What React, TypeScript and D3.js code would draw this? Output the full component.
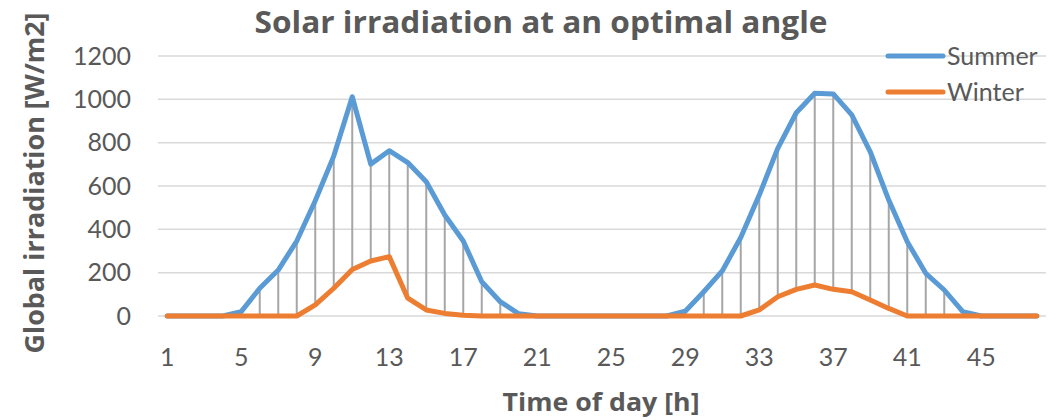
import React from "react";
import * as d3 from "d3";

// hours of the day (two days, 24 h each)
const hours: number[] = d3.range(1, 49);
const tickHours = [1, 5, 9, 13, 17, 21, 25, 29, 33, 37, 41, 45];
const yTicks = [0, 200, 400, 600, 800, 1000, 1200];

const summer = [
  0, 0, 0, 0, 20, 128, 212, 346, 532, 738, 1012, 701, 763, 708, 620, 466, 346, 158, 66, 10,
  0, 0, 0, 0, 0, 0, 0, 0, 22, 112, 208, 362, 558, 774, 938, 1028, 1025, 928, 758, 535,
  343, 197, 120, 20, 0, 0, 0, 0,
];
const winter = [
  0, 0, 0, 0, 0, 0, 0, 0, 51, 128, 215, 254, 274, 82, 28, 12, 3, 0, 0, 0,
  0, 0, 0, 0, 0, 0, 0, 0, 0, 0, 0, 0, 28, 89, 123, 143, 123, 112, 74, 35,
  0, 0, 0, 0, 0, 0, 0, 0,
];

const W = 1058;
const H = 420;
const FONT = "Lato, 'DejaVu Sans', sans-serif";
const BOLD = "'Open Sans', 'DejaVu Sans', sans-serif";
const TXT = "#595959";
const BLUE = "#5b9bd5";
const ORANGE = "#ed7d31";

const App = () => {
  const x = d3.scaleBand<number>().domain(hours).range([158, 1046]);
  const cx = (h: number) => (x(h) as number) + x.bandwidth() / 2;
  const y = d3.scaleLinear().domain([0, 1200]).range([316, 56]);

  const line = d3
    .line<number>()
    .x((_, i) => cx(hours[i]))
    .y((v) => y(v));

  return (
    <svg
      width={W}
      height={H}
      style={{ position: "absolute", left: 0, top: 0, background: "white" }}
      fontFamily={FONT}
    >
      {/* gridlines */}
      {yTicks.map((t) => (
        <line key={t} x1={158} x2={1046} y1={y(t)} y2={y(t)} stroke="#d9d9d9" strokeWidth={1.5} />
      ))}

      {/* high-low lines */}
      {hours.map((h, i) => {
        const lo = Math.min(summer[i], winter[i]);
        const hi = Math.max(summer[i], winter[i]);
        if (hi - lo < 1) return null;
        return (
          <line key={h} x1={cx(h)} x2={cx(h)} y1={y(lo)} y2={y(hi)} stroke="#a6a6a6" strokeWidth={2} />
        );
      })}

      <path d={line(summer) as string} fill="none" stroke={BLUE} strokeWidth={5} strokeLinejoin="round" strokeLinecap="round" />
      <path d={line(winter) as string} fill="none" stroke={ORANGE} strokeWidth={5} strokeLinejoin="round" strokeLinecap="round" />

      {/* y tick labels */}
      {yTicks.map((t) => (
        <text key={t} x={131} y={y(t)} dy="0.35em" textAnchor="end" fontSize={25} fill={TXT}>
          {t}
        </text>
      ))}

      {/* x tick labels */}
      {tickHours.map((h) => (
        <text key={h} x={cx(h)} y={357} dy="0.35em" textAnchor="middle" fontSize={25} fill={TXT}>
          {h}
        </text>
      ))}

      {/* titles */}
      <text x={541} y={22} dy="0.35em" textAnchor="middle" fontFamily={BOLD} fontSize={31} fontWeight="bold" fill={TXT}
        textLength={573} lengthAdjust="spacingAndGlyphs">
        Solar irradiation at an optimal angle
      </text>
      <text x={601} y={402} dy="0.35em" textAnchor="middle" fontFamily={BOLD} fontSize={25} fontWeight="bold" fill={TXT}
        textLength={197} lengthAdjust="spacingAndGlyphs">
        Time of day [h]
      </text>
      <text
        transform={`translate(35,183) rotate(-90)`}
        dy="0.35em"
        textAnchor="middle"
        fontFamily={BOLD}
        fontSize={26}
        fontWeight="bold"
        fill={TXT}
        textLength={341}
        lengthAdjust="spacingAndGlyphs"
      >
        Global irradiation [W/m2]
      </text>

      {/* legend */}
      {[
        { name: "Summer", color: BLUE, yy: 56 },
        { name: "Winter", color: ORANGE, yy: 92 },
      ].map((d) => (
        <g key={d.name}>
          <line x1={888} x2={943} y1={d.yy} y2={d.yy} stroke={d.color} strokeWidth={5} strokeLinecap="round" />
          <text x={947} y={d.yy} dy="0.35em" fontSize={25} fill={TXT}>
            {d.name}
          </text>
        </g>
      ))}
    </svg>
  );
};

export default App;
